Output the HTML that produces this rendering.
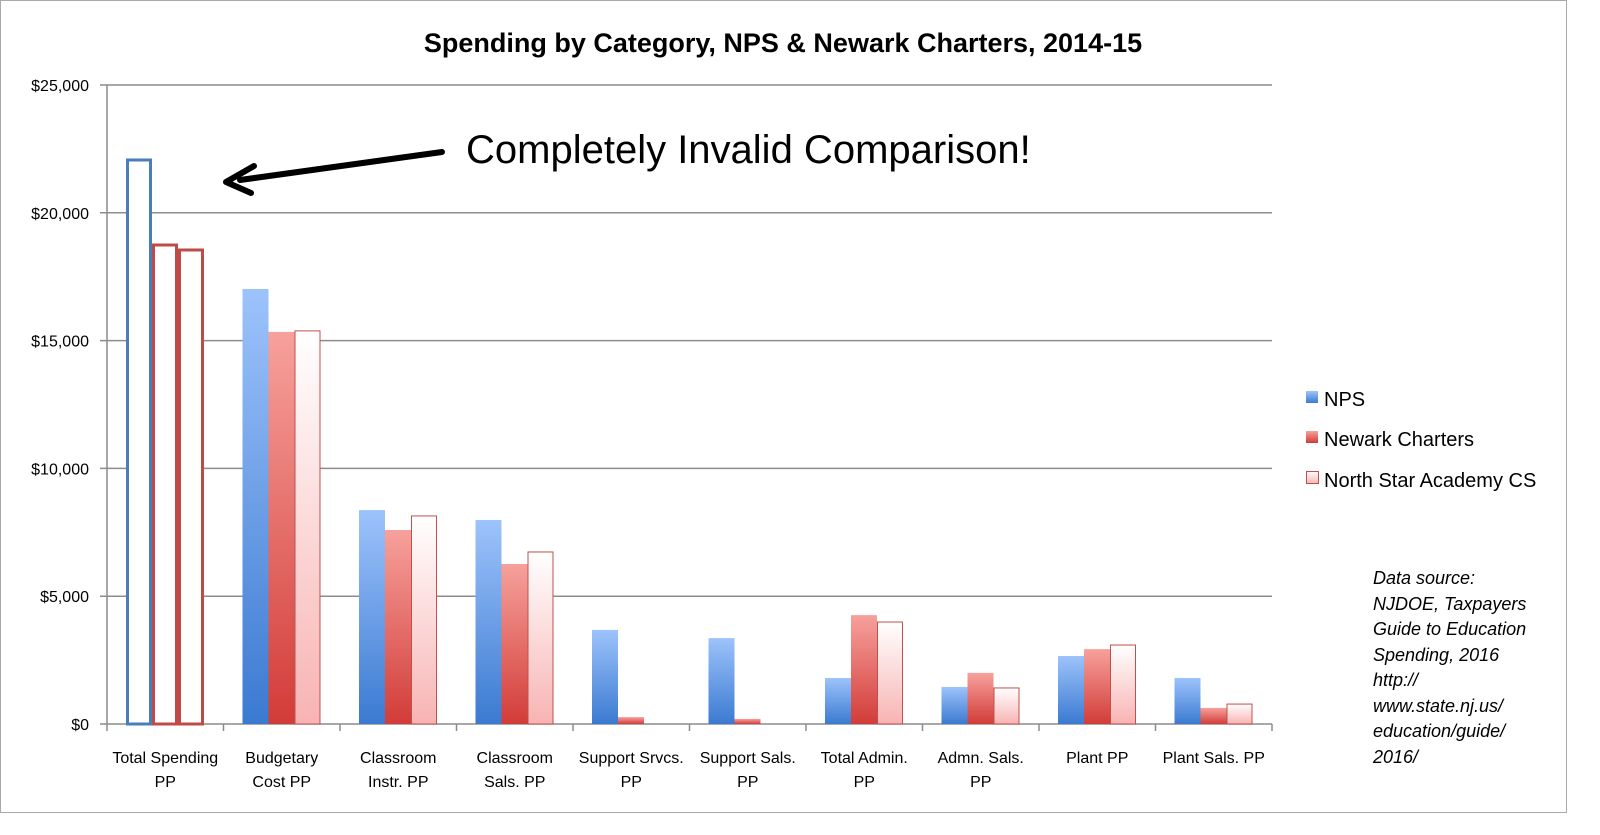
<!DOCTYPE html>
<html><head><meta charset="utf-8"><style>
body{margin:0;background:#fff;font-family:"Liberation Sans",Calibri,sans-serif}
svg text{font-family:"Liberation Sans",sans-serif}
</style></head><body>
<svg id="c" width="1600" height="830" xmlns="http://www.w3.org/2000/svg">
<defs>
<linearGradient id="gB" x1="0" y1="0" x2="0" y2="1"><stop offset="0" stop-color="#9dc3fb"/><stop offset="1" stop-color="#3b7ad1"/></linearGradient>
<linearGradient id="gR" x1="0" y1="0" x2="0" y2="1"><stop offset="0" stop-color="#f7a19c"/><stop offset="1" stop-color="#d23c38"/></linearGradient>
<linearGradient id="gP" x1="0" y1="0" x2="0" y2="1"><stop offset="0" stop-color="#ffffff"/><stop offset="1" stop-color="#f8b3b3"/></linearGradient>
</defs>
<rect x="0.5" y="0.5" width="1566" height="812" fill="#fff" stroke="#aaa"/>
<text x="783" y="52" text-anchor="middle" font-size="27" font-weight="bold">Spending by Category, NPS &amp; Newark Charters, 2014-15</text>
<g id="grid"></g><g id="bars"></g><g id="xl"></g>
<line x1="442" y1="152" x2="240" y2="180" stroke="#000" stroke-width="6" stroke-linecap="round"/>
<polyline points="254,166 226,182 251,193" fill="none" stroke="#000" stroke-width="6" stroke-linecap="round" stroke-linejoin="round"/>
<text x="466" y="163" font-size="40">Completely Invalid Comparison!</text>
<g>
<rect x="1306" y="391" width="12" height="12" fill="url(#gB)"/>
<text x="1324" y="406" font-size="20">NPS</text>
<rect x="1306" y="431" width="12" height="12" fill="url(#gR)"/>
<text x="1324" y="446" font-size="20">Newark Charters</text>
<rect x="1306.5" y="471.5" width="12" height="12" fill="url(#gP)" stroke="#c0504d"/>
<text x="1324" y="487" font-size="20">North Star Academy CS</text>
</g>
<g font-size="18" font-style="italic">
<text x="1373" y="584">Data source:</text><text x="1373" y="610">NJDOE, Taxpayers</text><text x="1373" y="635">Guide to Education</text><text x="1373" y="661">Spending, 2016</text><text x="1373" y="686">http://</text><text x="1373" y="712">www.state.nj.us/</text><text x="1373" y="737">education/guide/</text><text x="1373" y="763">2016/</text>
</g>
</svg>
<script>
const categories=[["Total Spending","PP"],["Budgetary","Cost PP"],["Classroom","Instr. PP"],["Classroom","Sals. PP"],["Support Srvcs.","PP"],["Support Sals.","PP"],["Total Admin.","PP"],["Admn. Sals.","PP"],["Plant PP",""],["Plant Sals. PP",""]];
const npsValues=[22066,17020,8370,7980,3680,3360,1800,1450,2660,1800];
const chartersValues=[18740,15340,7590,6260,270,200,4260,2000,2930,630];
const northStarValues=[18545,15380,8140,6730,0,0,3990,1410,3090,780];
const yTicks=[0,5000,10000,15000,20000,25000];
const yTickLabels=["$0","$5,000","$10,000","$15,000","$20,000","$25,000"];
const NS="http://www.w3.org/2000/svg";
const X0=107,X1=1272,Y0=724,Y1=85,YMAX=25000;
const catW=(X1-X0)/categories.length;
const y=v=>Y0-(v/YMAX)*(Y0-Y1);
const xCat=i=>X0+i*catW;
function mk(t,a,p){const e=document.createElementNS(NS,t);for(const k in a)e.setAttribute(k,a[k]);p.appendChild(e);return e;}
const grid=document.getElementById('grid');
yTicks.forEach((t,i)=>{
  const l=mk('line',{x1:X0-7,x2:X1,y1:y(t),y2:y(t),stroke:'#8c8c8c','stroke-width':1.5},grid);
  
  
  const tx=mk('text',{x:X0-18,y:y(t)+6,'text-anchor':'end','font-size':16},grid);
  tx.textContent=yTickLabels[i];
  
  
});
const ax=mk('line',{x1:X0,x2:X0,y1:Y1,y2:Y0,stroke:'#8c8c8c','stroke-width':1.5},grid);


for(let i=0;i<=categories.length;i++){const t=mk('line',{x1:xCat(i),x2:xCat(i),y1:Y0,y2:Y0+7,stroke:'#8c8c8c','stroke-width':1.5},grid);

}
const bars=document.getElementById('bars'),xl=document.getElementById('xl');
const bw=26,off=19;
const series=[npsValues,chartersValues,northStarValues];
const fills=['url(#gB)','url(#gR)','url(#gP)'];
const names=['nps','charters','northstar'];
categories.forEach((c,i)=>{
  series.forEach((s,j)=>{
    const v=s[i]; if(v<=0)return;
    const x=xCat(i)+off+j*bw,top=y(v);
    let a;
    if(i===0) a={x:x+1.5,y:top,width:bw-3,height:Y0-top,fill:'#fff',stroke:j===0?'#4a7ebb':'#be4b48','stroke-width':3};
    else a={x:x,y:top,width:bw,height:Y0-top,fill:fills[j]};
    if(i>0&&j===2){a.x+=0.5;a.width-=1;a.stroke='#c0504d';a['stroke-width']=1;}
    const r=mk('rect',a,bars);
    
    
  });
  c.forEach((ln,k)=>{if(!ln)return;
    const t=mk('text',{x:xCat(i)+catW/2,y:763+k*24,'text-anchor':'middle','font-size':16},xl);
    t.textContent=ln;
    
    });
});
</script>
</body></html>
